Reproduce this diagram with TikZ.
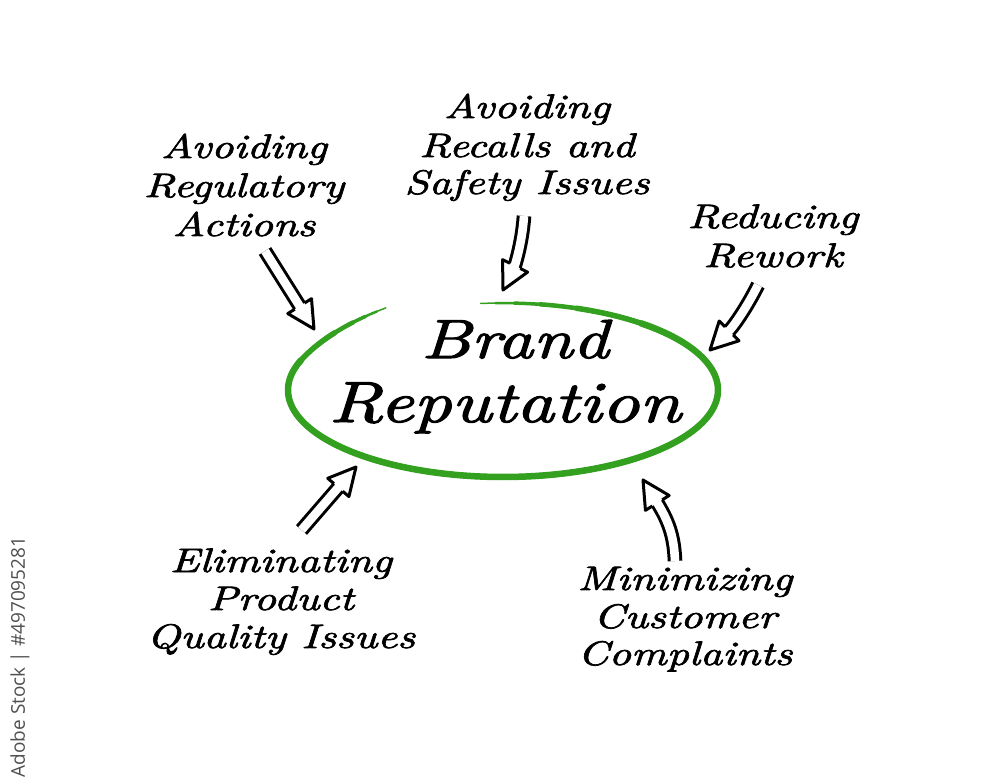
\documentclass[tikz,border=0pt]{standalone}
\usepackage{fontspec}
\usetikzlibrary{decorations.markings}
\newfontfamily\hand{lmroman10-italic.otf}[FakeStretch=1.28,FakeBold=2]
\newfontfamily\wmfont{Open Sans}
\definecolor{ringgreen}{RGB}{52,160,32}
\definecolor{wmgray}{RGB}{80,80,80}
\begin{document}
\begin{tikzpicture}[x=1pt,y=-1pt,
  lbl/.style={anchor=base, inner sep=0pt, font=\hand\fontsize{34}{39}\selectfont},
  bigl/.style={anchor=base, inner sep=0pt},
  shaft/.style={draw=black, line width=3pt, double=white, double distance=8.6pt, shorten >=25pt},
  headtip/.style={decorate, decoration={markings, mark=at position 1 with {
      \filldraw[fill=white, draw=black, line width=3pt, line join=round]
        (-27pt,5.8pt) -- (-27pt,14pt) -- (0pt,0pt) -- (-27pt,-14pt) -- (-27pt,-5.8pt);}}}
]
\fill[white] (0,0) rectangle (1000,778);
\useasboundingbox (0,0) rectangle (1000,778);

% ring
\foreach \w/\a/\b in {1.5/120/456, 2.5/123/452, 3.5/127/447, 4.5/132/440, 5.5/140/430, 6.5/160/410}{
  \draw[ringgreen, line width=\w pt, line cap=round]
    plot[domain=\a:\b, samples=140, variable=\t]
    ({503+215*(1+0.09*(max(0,160-\t)/40)^2)*cos(\t)},
     {390-87*(1+0.09*(max(0,160-\t)/40)^2)*sin(\t)});
}

% centre text
\node[bigl, font=\hand\fontsize{55}{60}\selectfont] (brand) at (515,358) {Brand};
\node[bigl, font=\hand\fontsize{58}{62}\selectfont] (rep) at (505,422) {Reputation};

% labels
\node[lbl] (a1) at (244,158) {Avoiding};
\node[lbl] (a2) at (244,197) {Regulatory};
\node[lbl] (a3) at (244,236) {Actions};

\node[lbl] (b1) at (527,118) {Avoiding};
\node[lbl] (b2) at (527,157) {Recalls and};
\node[lbl] (b3) at (527,194) {Safety Issues};

\node[lbl] (c1) at (773,228) {Reducing};
\node[lbl] (c2) at (773,267) {Rework};

\node[lbl] (d1) at (281,572) {Eliminating};
\node[lbl] (d2) at (281,610) {Product};
\node[lbl] (d3) at (281,648) {Quality Issues};

\node[lbl] (e1) at (685,590) {Minimizing};
\node[lbl] (e2) at (685,628) {Customer};
\node[lbl] (e3) at (685,665) {Complaints};

% arrow end points
\coordinate (t1) at (265,251); \coordinate (h1) at (314,329);
\coordinate (t2) at (524,216); \coordinate (h2) at (503,290);
\coordinate (t3) at (758,285); \coordinate (h3) at (710,350);
\coordinate (t4) at (301.5,530); \coordinate (h4) at (356,467);
\coordinate (t5) at (675,561); \coordinate (h5) at (643,480);

\draw[shaft] (t1) -- (h1);
\path[headtip] (t1) -- (h1);

\draw[shaft] (t2) .. controls (522,245) and (514,268) .. (h2);
\path[headtip] (t2) .. controls (522,245) and (514,268) .. (h2);

\draw[shaft] (t3) .. controls (748,305) and (735,325) .. (h3);
\path[headtip] (t3) .. controls (748,305) and (735,325) .. (h3);

\draw[shaft] (t4) -- (h4);
\path[headtip] (t4) -- (h4);

\draw[shaft] (t5) .. controls (674,535) and (668,520) .. (h5);
\path[headtip] (t5) .. controls (674,535) and (668,520) .. (h5);

% side watermark
\node[rotate=90, inner sep=0pt, text=wmgray, font=\wmfont\fontsize{19}{22}\selectfont] (wm) at (20,657) {Adobe Stock | \#497095281};
\end{tikzpicture}
\end{document}
